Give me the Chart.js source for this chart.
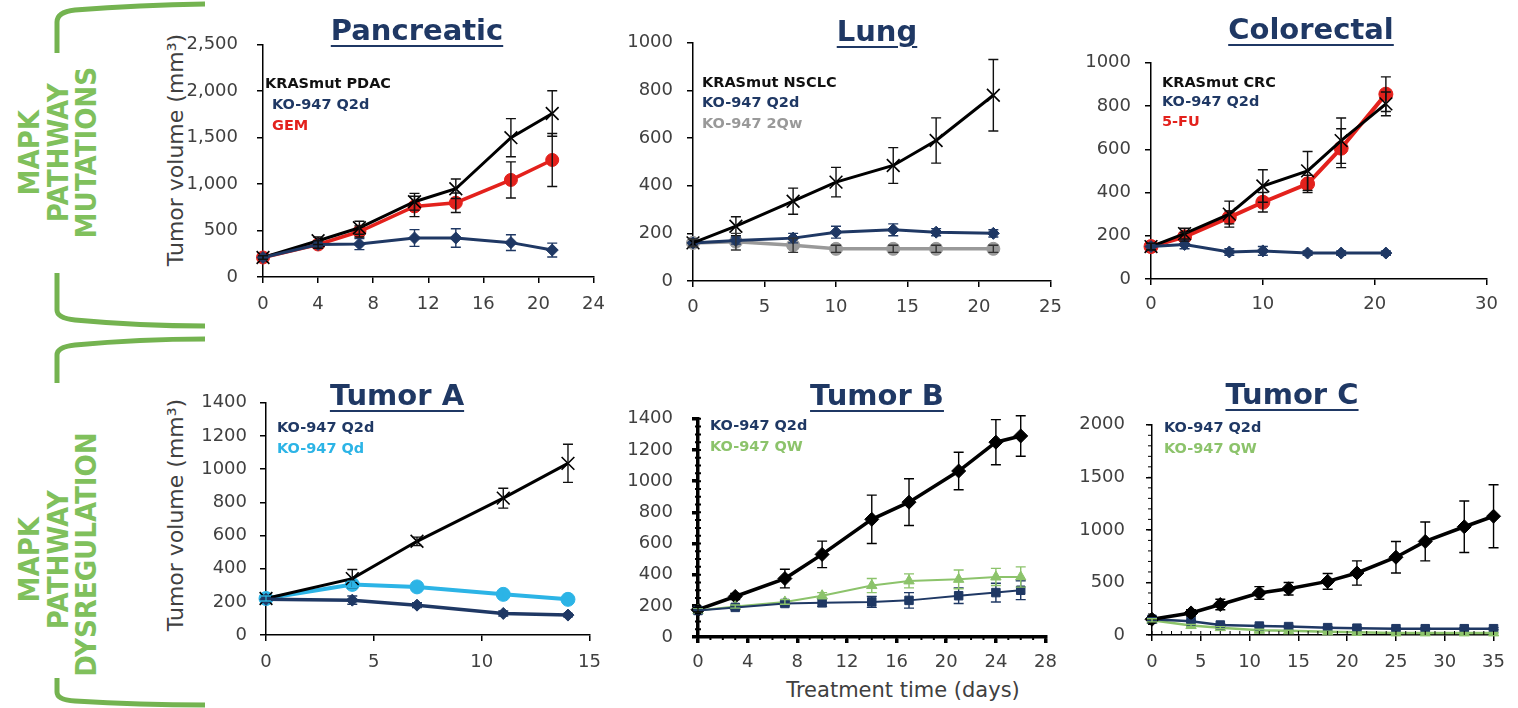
<!DOCTYPE html>
<html>
<head>
<meta charset="utf-8">
<script src="https://cdn.jsdelivr.net/npm/chart.js@4"></script>
<style>
  body { margin: 0; background: #fff; }
  #wrap { position: relative; width: 1518px; height: 708px; overflow: hidden; background: #fff; }
  canvas { position: absolute; }
  .title { position: absolute; font: bold 29px "DejaVu Sans", sans-serif; color: #1f3864;
           text-decoration: underline; text-decoration-thickness: 2px; text-underline-offset: 5px;
           transform: translate(-50%, -50%); white-space: nowrap; }
  .leg { position: absolute; font: bold 14.5px "DejaVu Sans", sans-serif; line-height: 21px; white-space: nowrap; }
  .side { position: absolute; width: 260px; text-align: center; color: #80c05c;
          font: bold 29px "DejaVu Sans", sans-serif; line-height: 28.5px;
          transform: rotate(-90deg) scaleX(0.9); }
  .axt { position: absolute; font: 22px "DejaVu Sans", sans-serif; color: #404040; white-space: nowrap;
         transform: translate(-50%, -50%) rotate(-90deg); }
  .axx { position: absolute; font: 21px "DejaVu Sans", sans-serif; color: #404040; white-space: nowrap;
         transform: translate(-50%, -50%); }
</style>
</head>
<body>
<div id="wrap">
  <svg width="1518" height="708" style="position:absolute;left:0;top:0">
    <g fill="none" stroke="#74b350" stroke-width="5">
      <path d="M57 53 L57 22 Q57 12 75 10 Q140 5 205 4"/>
      <path d="M57 273 L57 310 Q57 318 75 320 Q140 326 205 326"/>
      <path d="M205 339 Q140 339 75 345 Q57 347 57 355 L57 383"/>
      <path d="M57 678 L57 692 Q57 700 75 701 Q140 705 205 705"/>
    </g>
  </svg>

  <div class="side" style="left:-72px;top:110px">MAPK<br>PATHWAY<br>MUTATIONS</div>
  <div class="side" style="left:-72px;top:517px">MAPK<br>PATHWAY<br>DYSREGULATION</div>

  <div class="axt" style="left:175px;top:150px">Tumor volume (mm³)</div>
  <div class="axt" style="left:175px;top:515px">Tumor volume (mm³)</div>
  <div class="axx" style="left:903px;top:690px">Treatment time (days)</div>

  <canvas id="pan"></canvas>
  <canvas id="lung"></canvas>
  <canvas id="crc"></canvas>
  <canvas id="tumA"></canvas>
  <canvas id="tumB"></canvas>
  <canvas id="tumC"></canvas>

  <div class="title" style="left:417px;top:30px">Pancreatic</div>
  <div class="title" style="left:877px;top:31px">Lung</div>
  <div class="title" style="left:1311px;top:29px">Colorectal</div>
  <div class="title" style="left:397px;top:395px">Tumor A</div>
  <div class="title" style="left:877px;top:395px">Tumor B</div>
  <div class="title" style="left:1292px;top:394px">Tumor C</div>

  <div class="leg" style="left:265px;top:73px;color:#111">KRASmut PDAC</div>
  <div class="leg" style="left:272px;top:94px;color:#1f3864">KO-947 Q2d</div>
  <div class="leg" style="left:272px;top:115px;color:#e3211c">GEM</div>

  <div class="leg" style="left:702px;top:72px;color:#111">KRASmut NSCLC</div>
  <div class="leg" style="left:702px;top:92px;color:#1f3864">KO-947 Q2d</div>
  <div class="leg" style="left:702px;top:113px;color:#999">KO-947 2Qw</div>

  <div class="leg" style="left:1162px;top:72px;color:#111">KRASmut CRC</div>
  <div class="leg" style="left:1162px;top:91px;color:#1f3864">KO-947 Q2d</div>
  <div class="leg" style="left:1162px;top:111px;color:#e3211c">5-FU</div>

  <div class="leg" style="left:277px;top:417px;color:#1f3864">KO-947 Q2d</div>
  <div class="leg" style="left:277px;top:438px;color:#2cb4e6">KO-947 Qd</div>

  <div class="leg" style="left:710px;top:415px;color:#1f3864">KO-947 Q2d</div>
  <div class="leg" style="left:710px;top:436px;color:#8cc36b">KO-947 QW</div>

  <div class="leg" style="left:1164px;top:417px;color:#1f3864">KO-947 Q2d</div>
  <div class="leg" style="left:1164px;top:438px;color:#8cc36b">KO-947 QW</div>
</div>

<script>
// Pancreatic
const panDays = [0, 4, 7, 11, 14, 18, 21];
const panVehicle = [210, 390, 530, 810, 950, 1500, 1760];
const panVehicleErr = [20, 40, 70, 90, 105, 205, 245];
const panGem = [210, 350, 490, 760, 800, 1045, 1260];
const panGemErr = [20, 40, 60, 110, 105, 195, 285];
const panKo = [210, 350, 355, 420, 420, 370, 290];
const panKoErr = [20, 40, 60, 90, 100, 85, 75];

// Lung
const lungDays = [0, 3, 7, 10, 14, 17, 21];
const lungVehicle = [160, 230, 335, 415, 485, 590, 780];
const lungVehicleErr = [15, 40, 55, 62, 75, 95, 150];
const lungKo = [160, 170, 180, 205, 215, 205, 200];
const lungKoErr = [15, 15, 20, 25, 25, 15, 15];
const lungKo2qw = [160, 165, 150, 135, 135, 135, 135];
const lungKo2qwErr = [15, 35, 30, 15, 15, 15, 15];

// Colorectal
const crcDays = [0, 3, 7, 10, 14, 17, 21];
const crcVehicle = [150, 210, 300, 430, 500, 640, 810];
const crcVehicleErr = [15, 25, 60, 75, 90, 105, 55];
const crcFu = [150, 195, 285, 355, 440, 605, 855];
const crcFuErr = [15, 20, 30, 45, 40, 90, 80];
const crcKo = [150, 160, 125, 130, 120, 120, 120];
const crcKoErr = [15, 20, 15, 20, 10, 10, 10];

// Tumor A
const aDays = [0, 4, 7, 11, 14];
const aVehicle = [220, 340, 565, 825, 1035];
const aVehicleErr = [15, 55, 25, 60, 115];
const aQd = [220, 305, 290, 245, 215];
const aQdErr = [15, 20, 15, 15, 10];
const aQ2d = [215, 210, 180, 130, 120];
const aQ2dErr = [15, 25, 15, 15, 10];

// Tumor B
const bDays = [0, 3, 7, 10, 14, 17, 21, 24, 26];
const bVehicle = [175, 260, 375, 530, 755, 865, 1065, 1250, 1290];
const bVehicleErr = [15, 20, 60, 85, 155, 150, 120, 145, 130];
const bQw = [170, 195, 225, 265, 330, 360, 370, 385, 385];
const bQwErr = [15, 10, 15, 20, 45, 45, 60, 55, 65];
const bQ2d = [170, 190, 215, 220, 225, 235, 265, 285, 300];
const bQ2dErr = [15, 10, 15, 25, 35, 50, 50, 60, 60];

// Tumor C
const cDays = [0, 4, 7, 11, 14, 18, 21, 25, 28, 32, 35];
const cVehicle = [150, 210, 290, 400, 440, 510, 590, 740, 890, 1030, 1130];
const cVehicleErr = [20, 30, 50, 60, 60, 75, 115, 150, 185, 245, 300];
const cQ2d = [150, 130, 95, 85, 80, 70, 65, 60, 60, 60, 60];
const cQ2dErr = [15, 10, 10, 10, 10, 10, 10, 10, 10, 10, 10];
const cQw = [140, 90, 70, 45, 40, 30, 25, 20, 20, 20, 20];
const cQwErr = [15, 10, 10, 10, 5, 5, 5, 5, 5, 5, 5];

const NAVY = '#1f3864', RED = '#e3211c', GREY = '#999999', CYAN = '#2cb4e6', GREEN = '#8cc36b';

function series(days, vals, errs, color, style, radius, width, errColor) {
    return {
        data: days.map((d, i) => ({ x: d, y: vals[i] })),
        err: errs,
        errColor: errColor || '#111',
        borderColor: color,
        backgroundColor: color,
        pointStyle: style,
        pointRadius: radius,
        pointBorderWidth: style === 'crossRot' ? 1.6 : 1,
        borderWidth: width,
        tension: 0,
        fill: false,
        clip: false
    };
}

// error bars, drawn through the chart's own scales
const errorBars = {
    id: 'errorBars',
    afterDatasetsDraw(chart) {
        const ctx = chart.ctx, ys = chart.scales.y, xs = chart.scales.x;
        chart.data.datasets.forEach(ds => {
            if (!ds.err) return;
            ctx.save();
            ctx.strokeStyle = ds.errColor;
            ctx.lineWidth = 1.4;
            ds.data.forEach((p, i) => {
                const e = ds.err[i];
                const x = xs.getPixelForValue(p.x);
                const t = ys.getPixelForValue(p.y + e), b = ys.getPixelForValue(p.y - e);
                ctx.beginPath();
                ctx.moveTo(x, t); ctx.lineTo(x, b);
                ctx.moveTo(x - 5, t); ctx.lineTo(x + 5, t);
                ctx.moveTo(x - 5, b); ctx.lineTo(x + 5, b);
                ctx.stroke();
            });
            ctx.restore();
        });
    }
};

// small minor ticks on the axes (Tumor B and C)
const minorTicks = {
    id: 'minorTicks',
    afterDraw(chart, args, opts) {
        if (!opts || !opts.x) return;
        const ctx = chart.ctx, xs = chart.scales.x, ys = chart.scales.y;
        const a = chart.chartArea;
        ctx.save();
        ctx.strokeStyle = '#000';
        ctx.lineWidth = opts.width;
        ctx.beginPath();
        for (let v = 0; v <= xs.max; v += opts.x) {
            const x = xs.getPixelForValue(v);
            if (opts.xDir === 'in') { ctx.moveTo(x, a.bottom); ctx.lineTo(x, a.bottom - opts.len); }
            else { ctx.moveTo(x, a.bottom); ctx.lineTo(x, a.bottom + opts.len); }
        }
        for (let v = 0; v <= ys.max; v += opts.y) {
            const y = ys.getPixelForValue(v);
            if (opts.yDir === 'both') { ctx.moveTo(a.left - opts.len, y); ctx.lineTo(a.left + opts.len, y); }
            else { ctx.moveTo(a.left, y); ctx.lineTo(a.left - opts.len, y); }
        }
        ctx.stroke();
        ctx.restore();
    }
};

const W = 80, H = 40, PT = 14, PR = 18;

function makeChart(id, box, cfg) {
    const cv = document.getElementById(id);
    cv.width = box.x1 - box.x0 + W + PR;
    cv.height = box.bottom - box.top + PT + H;
    cv.style.left = (box.x0 - W) + 'px';
    cv.style.top = (box.top - PT) + 'px';
    const tickFont = { family: 'DejaVu Sans', size: 18 };
    return new Chart(cv, {
        type: 'line',
        data: { datasets: cfg.datasets },
        options: {
            responsive: false,
            animation: false,
            events: [],
            layout: { padding: { top: PT, right: PR, left: 0, bottom: 0 } },
            plugins: { legend: { display: false }, tooltip: { enabled: false }, minorTicks: cfg.minor || {} },
            scales: {
                x: {
                    type: 'linear', min: 0, max: cfg.xMax,
                    ticks: { stepSize: cfg.xStep, color: '#404040', font: tickFont, padding: cfg.xPad, maxRotation: 0, autoSkip: false },
                    grid: { drawOnChartArea: false, drawTicks: true, tickLength: 6, color: '#000', lineWidth: cfg.axisW },
                    border: { color: '#000', width: cfg.axisW },
                    afterFit(s) { s.height = H; }
                },
                y: {
                    min: 0, max: cfg.yMax,
                    ticks: { stepSize: cfg.yStep, color: '#404040', font: tickFont, padding: cfg.yPad,
                             callback: cfg.comma ? v => v.toLocaleString('en-US') : v => String(v) },
                    grid: { drawOnChartArea: false, drawTicks: true, tickLength: 6, color: '#000', lineWidth: cfg.axisW },
                    border: { color: '#000', width: cfg.axisW },
                    afterFit(s) { s.width = W; }
                }
            }
        },
        plugins: [errorBars, minorTicks]
    });
}

makeChart('pan', { x0: 263, x1: 598, top: 29, bottom: 277 }, {
    xMax: 24, xStep: 4, yMax: 2500, yStep: 500, comma: true, xPad: 11, yPad: 19, axisW: 1.5,
    datasets: [
        series(panDays, panKo, panKoErr, NAVY, 'rectRot', 6, 3, NAVY),
        series(panDays, panVehicle, panVehicleErr, '#000', 'crossRot', 9, 3),
        series(panDays, panGem, panGemErr, RED, 'circle', 6.5, 3.5)
    ]
});

makeChart('lung', { x0: 693, x1: 1054, top: 32, bottom: 281 }, {
    xMax: 25, xStep: 5, yMax: 1000, yStep: 200, xPad: 10, yPad: 14, axisW: 1.5,
    datasets: [
        series(lungDays, lungVehicle, lungVehicleErr, '#000', 'crossRot', 9, 3),
        series(lungDays, lungKo, lungKoErr, NAVY, 'rectRot', 6, 3, NAVY),
        series(lungDays, lungKo2qw, lungKo2qwErr, GREY, 'circle', 6.5, 3.5, '#333')
    ]
});

makeChart('crc', { x0: 1151, x1: 1489, top: 52, bottom: 279 }, {
    xMax: 30, xStep: 10, yMax: 1000, yStep: 200, xPad: 9, yPad: 14, axisW: 1.5,
    datasets: [
        series(crcDays, crcKo, crcKoErr, NAVY, 'rectRot', 6, 3, NAVY),
        series(crcDays, crcVehicle, crcVehicleErr, '#000', 'crossRot', 9, 3),
        series(crcDays, crcFu, crcFuErr, RED, 'circle', 7, 4)
    ]
});

makeChart('tumA', { x0: 266, x1: 594, top: 393, bottom: 635 }, {
    xMax: 15, xStep: 5, yMax: 1400, yStep: 200, xPad: 11, yPad: 13, axisW: 1.5,
    datasets: [
        series(aDays, aQ2d, aQ2dErr, NAVY, 'rectRot', 6, 3.5, NAVY),
        series(aDays, aVehicle, aVehicleErr, '#000', 'crossRot', 9, 3),
        series(aDays, aQd, aQdErr, CYAN, 'circle', 7, 4, CYAN)
    ]
});

makeChart('tumB', { x0: 698, x1: 1048, top: 403, bottom: 637 }, {
    xMax: 28, xStep: 4, yMax: 1400, yStep: 200, xPad: 9, yPad: 19, axisW: 3.5,
    minor: { x: 1, y: 50, xDir: 'out', yDir: 'both', len: 3, width: 2 },
    datasets: [
        series(bDays, bQ2d, bQ2dErr, NAVY, 'rect', 6, 2, NAVY),
        series(bDays, bQw, bQwErr, GREEN, 'triangle', 6, 2, GREEN),
        series(bDays, bVehicle, bVehicleErr, '#000', 'rectRot', 7, 3.5, '#000')
    ]
});

makeChart('tumC', { x0: 1152, x1: 1498, top: 407, bottom: 635 }, {
    xMax: 35, xStep: 5, yMax: 2000, yStep: 500, xPad: 11, yPad: 21, axisW: 1.5,
    minor: { x: 1, y: 100, xDir: 'in', yDir: 'out', len: 4, width: 1 },
    datasets: [
        series(cDays, cVehicle, cVehicleErr, '#000', 'rectRot', 7, 3.5, '#000'),
        series(cDays, cQ2d, cQ2dErr, NAVY, 'rect', 6, 2.5, NAVY),
        series(cDays, cQw, cQwErr, GREEN, 'triangle', 6, 2.5, GREEN)
    ]
});
</script>
</body>
</html>
